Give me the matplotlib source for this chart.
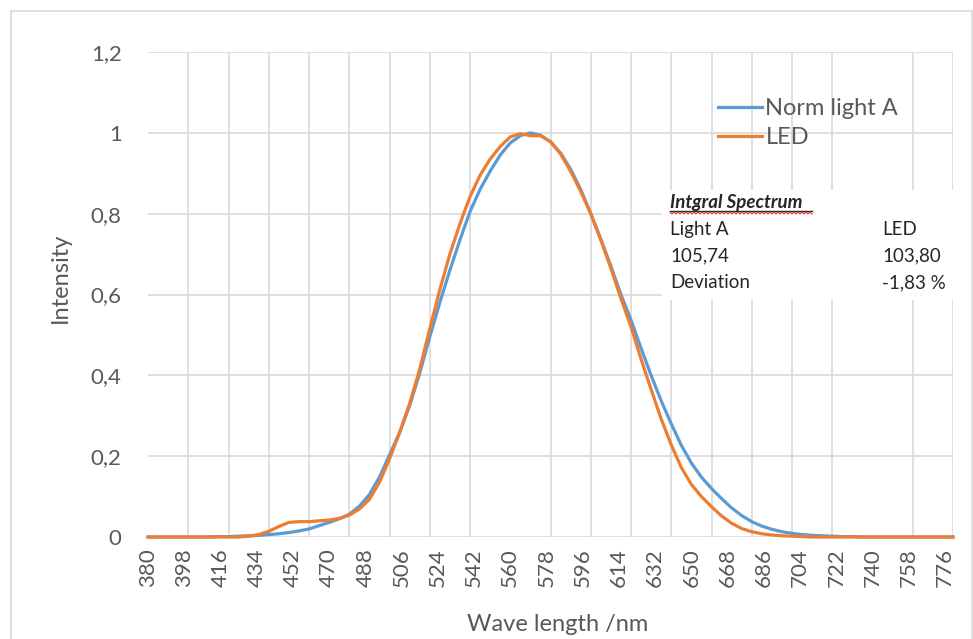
import numpy as np
import matplotlib.pyplot as plt
from matplotlib.patches import Rectangle
from matplotlib.lines import Line2D

# wavelength grid (nm) and the two spectra
wave = np.arange(380, 781, 5)

norm_light_a = [0, 0, 0, 0, 0, 0, 0, 0.001, 0.001, 0.002,
                0.003, 0.004, 0.006, 0.008, 0.011, 0.015, 0.020, 0.028, 0.036, 0.045,
                0.056, 0.076, 0.105, 0.148, 0.203, 0.258, 0.325, 0.405, 0.495, 0.58,
                0.66, 0.735, 0.805, 0.86, 0.905, 0.945, 0.975, 0.993, 1.0, 0.994,
                0.978, 0.95, 0.91, 0.86, 0.80, 0.737, 0.67, 0.60, 0.537, 0.467,
                0.40, 0.337, 0.28, 0.227, 0.183, 0.148, 0.12, 0.095, 0.072, 0.053,
                0.038, 0.027, 0.019, 0.013, 0.009, 0.006, 0.004, 0.003, 0.002, 0.001,
                0.001, 0, 0, 0, 0, 0, 0, 0, 0, 0, 0]

led = [0, 0, 0, 0, 0, 0, 0, 0, 0, 0,
       0.002, 0.006, 0.014, 0.026, 0.036, 0.038, 0.038, 0.040, 0.042, 0.046,
       0.054, 0.069, 0.093, 0.135, 0.193, 0.258, 0.33, 0.415, 0.515, 0.612,
       0.70, 0.775, 0.842, 0.895, 0.935, 0.966, 0.99, 0.998, 0.993, 0.993,
       0.978, 0.948, 0.905, 0.855, 0.80, 0.735, 0.665, 0.59, 0.52, 0.44,
       0.365, 0.292, 0.228, 0.172, 0.13, 0.1, 0.075, 0.052, 0.034, 0.021,
       0.013, 0.008, 0.005, 0.003, 0.002, 0.001, 0, 0, 0, 0,
       0, 0, 0, 0, 0, 0, 0, 0, 0, 0, 0]

label_ticks = np.arange(380, 777, 18)
grid_ticks = np.arange(380, 781, 20)
y_ticks = [0, 0.2, 0.4, 0.6, 0.8, 1.0, 1.2]
y_labels = ['0', '0,2', '0,4', '0,6', '0,8', '1', '1,2']

table_rows = [('Light A', 'LED'), ('105,74', '103,80'), ('Deviation', '-1,83 %')]

blue = '#5B9BD5'
orange = '#ED7D31'
gray = '#595959'
gridc = '#D9D9D9'

plt.rcParams['font.family'] = ['Lato', 'DejaVu Sans']

W, H = 973, 639
fig = plt.figure(figsize=(W / 100, H / 100), dpi=100)
ax = fig.add_axes([148 / W, 1 - 537 / H, 805 / W, 485 / H])

ax.plot(wave, norm_light_a, color=blue, lw=2.3, label='Norm light A', clip_on=False, zorder=3)
ax.plot(wave, led, color=orange, lw=2.3, label='LED', clip_on=False, zorder=4)

ax.set_xlim(380, 780)
ax.set_ylim(0, 1.2)

ax.set_xticks(label_ticks)
ax.set_xticklabels([str(t) for t in label_ticks], rotation=90)
ax.set_xticks(grid_ticks, minor=True)
ax.set_yticks(y_ticks)
ax.set_yticklabels(y_labels)

ax.grid(False)
ax.xaxis.grid(True, which='minor', color=gridc, lw=1.2)
ax.yaxis.grid(True, which='major', color=gridc, lw=1.2)
ax.set_axisbelow(True)
for s in ax.spines.values():
    s.set_visible(False)

ax.tick_params(axis='both', which='both', length=0, colors=gray, labelsize=16)
ax.tick_params(axis='y', pad=19)
ax.tick_params(axis='x', pad=8)

ax.set_xlabel('Wave length /nm', fontsize=17, color=gray, va='center')
ax.xaxis.set_label_coords(0.509, -0.181)
ax.set_ylabel('Intensity', fontsize=17, color=gray, va='center')
ax.yaxis.set_label_coords(-0.109, 0.535)

ax.legend(loc='upper left', bbox_to_anchor=(718 / W, 1 - 98 / H),
          bbox_transform=fig.transFigure, frameon=False, fontsize=17,
          handlelength=1.86, handletextpad=0.15, labelspacing=0.35,
          borderpad=0, borderaxespad=0, labelcolor=gray)

# outer chart border
fig.patches.append(Rectangle((10.5 / W, -0.02), (972 - 10.5) / W, 1 - 10.5 / H + 0.02,
                             transform=fig.transFigure, fill=False,
                             edgecolor=gridc, lw=1.2, zorder=0))

# text box with integral values
fig.patches.append(Rectangle((662 / W, 1 - 300 / H), 303 / W, 110 / H,
                             transform=fig.transFigure, facecolor='white',
                             edgecolor='none', zorder=5))
txt = '#262626'
fig.text(670 / W, 1 - 203 / H, 'Intgral Spectrum', fontsize=13.5, color=txt,
         fontweight='bold', fontstyle='italic', va='center', zorder=6)
fig.add_artist(Line2D([670 / W, 812 / W], [1 - 210.5 / H] * 2, color=txt, lw=1.0, zorder=6))
zx = np.arange(670, 813, 2)
zy = 213 + np.where(np.arange(len(zx)) % 2 == 0, -1, 1)
fig.add_artist(Line2D(zx / W, 1 - zy / H, color='#E03030', lw=0.8, zorder=6))

row_y = [229, 256, 283]
for (left, right), yy in zip(table_rows, row_y):
    fig.text(670 / W, 1 - yy / H, left, fontsize=13.5, color=txt, va='center', zorder=6)
    fig.text(882 / W, 1 - yy / H, right, fontsize=13.5, color=txt, va='center', zorder=6)

fig.savefig('out.png', dpi=100)
